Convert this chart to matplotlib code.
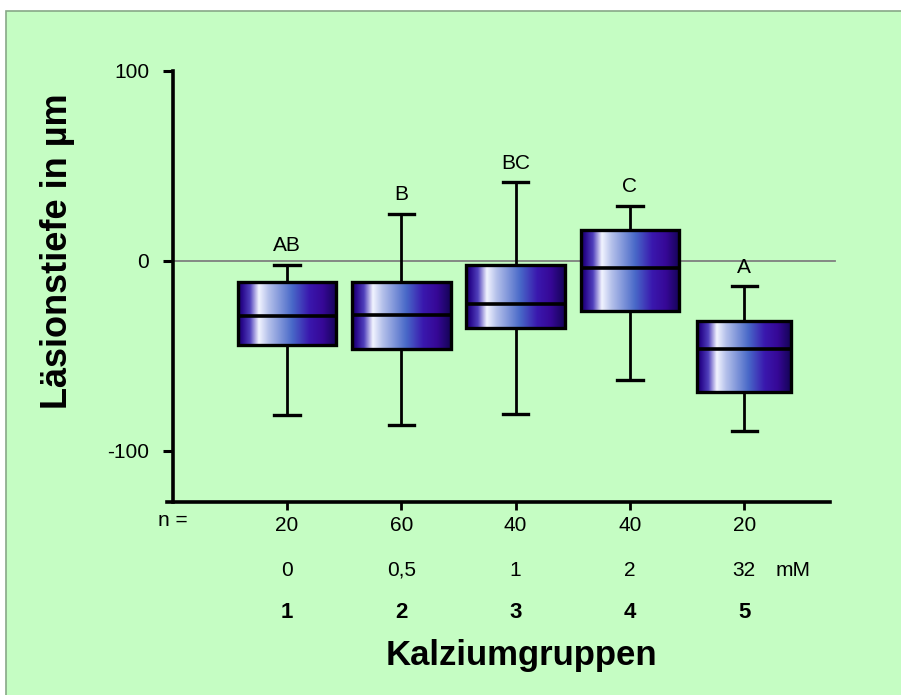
import numpy as np
import matplotlib
matplotlib.use("Agg")
import matplotlib.pyplot as plt
from matplotlib.colors import LinearSegmentedColormap
from matplotlib.patches import Rectangle
import matplotlib.transforms as mtransforms

# ---- data ----
groups = ["1", "2", "3", "4", "5"]
concentrations = ["0", "0,5", "1", "2", "32"]
n_values = ["20", "60", "40", "40", "20"]
letters = ["AB", "B", "BC", "C", "A"]
q1 = [-44.4, -46.3, -35.4, -26.3, -68.9]
q3 = [-11.4, -11.3, -2.5, 16.3, -31.6]
medians = [-29.0, -28.6, -22.6, -3.9, -46.5]
whisker_low = [-81.0, -86.7, -80.7, -62.8, -89.8]
whisker_high = [-2.3, 24.6, 41.2, 28.9, -13.5]
yticks = [-100, 0, 100]

FONT = "Liberation Sans"
plt.rcParams["font.family"] = [FONT, "DejaVu Sans"]

W, H = 901, 695
fig = plt.figure(figsize=(W / 100, H / 100), dpi=100, facecolor="white")

# green panel with frame
fig.patches.append(Rectangle((6 / W, -0.01), 1 - 6 / W + 0.01, (H - 11) / H + 0.01,
                             transform=fig.transFigure, facecolor="#c5fdc3",
                             edgecolor="#88a888", linewidth=1.2, zorder=-5))

ax_l, ax_r, ax_t, ax_b = 172.7, 830, 70.7, 502
ax = fig.add_axes([ax_l / W, (H - ax_b) / H, (ax_r - ax_l) / W, (ax_b - ax_t) / H])
ax.set_facecolor("none")
ax.set_zorder(2)

positions = np.arange(1, len(groups) + 1)
stats = []
for i in range(len(groups)):
    stats.append(dict(med=medians[i], q1=q1[i], q3=q3[i],
                      whislo=whisker_low[i], whishi=whisker_high[i], label=groups[i]))

widths = [0.865, 0.865, 0.865, 0.865, 0.82]
bp = ax.bxp(stats, positions=positions, widths=widths, patch_artist=True,
            showfliers=False, capwidths=0.22,
            boxprops=dict(facecolor="none", edgecolor="black", linewidth=2.4, zorder=3),
            medianprops=dict(color="black", linewidth=2.6, zorder=4),
            whiskerprops=dict(color="black", linewidth=2.0, zorder=2),
            capprops=dict(color="black", linewidth=2.4, zorder=2))

cmap = LinearSegmentedColormap.from_list("boxgrad", [
    (0.00, "#16045a"),
    (0.04, "#28088c"),
    (0.12, "#5040bc"),
    (0.21, "#f2f4ff"),
    (0.31, "#b4c0ea"),
    (0.55, "#4868c8"),
    (0.72, "#3a18ae"),
    (0.86, "#360896"),
    (1.00, "#140456"),
])
grad = np.linspace(0, 1, 256).reshape(1, -1)
for patch in bp["boxes"]:
    ext = patch.get_path().get_extents()
    im = ax.imshow(grad, cmap=cmap, aspect="auto",
                   extent=[ext.x0, ext.x1, ext.y0, ext.y1], zorder=2.5,
                   interpolation="bilinear")
    im.set_clip_path(patch)

ax.axhline(0, xmin=0, xmax=1.008, color="#7f7f7f", linewidth=1.3, zorder=1.5, clip_on=False)

ax.set_xlim(0, 5.75)
ax.set_ylim(-127, 100)

for s in ["top", "right"]:
    ax.spines[s].set_visible(False)
ax.spines["left"].set_linewidth(2.6)
ax.spines["bottom"].set_linewidth(2.6)
ax.spines["bottom"].set_bounds(-0.05, 5.75)

ax.set_yticks(yticks)
ax.set_yticklabels([str(v) for v in yticks], fontsize=15, family=FONT)
ax.tick_params(axis="y", direction="out", length=7, width=2.2, pad=10)

ax.set_xticks(positions)
ax.set_xticklabels(n_values, fontsize=15, family=FONT)
ax.tick_params(axis="x", direction="out", length=6, width=2.0, pad=4)

# letters above whiskers
for x, yv, t in zip(positions, whisker_high, letters):
    ax.annotate(t, (x, yv), xytext=(0, 7), textcoords="offset points",
                ha="center", va="bottom", fontsize=15, family=FONT)

# rows below the axis (figure pixel rows)
def fy(py):
    return (H - py) / H

trans = mtransforms.blended_transform_factory(ax.transData, fig.transFigure)
ax.text(0, fy(521), "n =", transform=trans, ha="center", va="center",
        fontsize=15, family=FONT)
for x, c in zip(positions, concentrations):
    ax.text(x, fy(570), c, transform=trans, ha="center", va="center",
            fontsize=15, family=FONT)
ax.text(5.43, fy(570), "mM", transform=trans, ha="center", va="center",
        fontsize=15, family=FONT)
for x, g in zip(positions, groups):
    ax.text(x, fy(613), g, transform=trans, ha="center", va="center",
            fontsize=16, fontweight="bold", family=FONT)
ax.text(3.05, fy(656), "Kalziumgruppen", transform=trans, ha="center", va="center",
        fontsize=25, fontweight="bold", family=FONT)

fig.text(57.5 / W, fy(251), "Läsionstiefe in µm", rotation=90, ha="center", va="center",
         fontsize=26, fontweight="bold", family=FONT)

fig.savefig("out.png", dpi=100, facecolor=fig.get_facecolor())
